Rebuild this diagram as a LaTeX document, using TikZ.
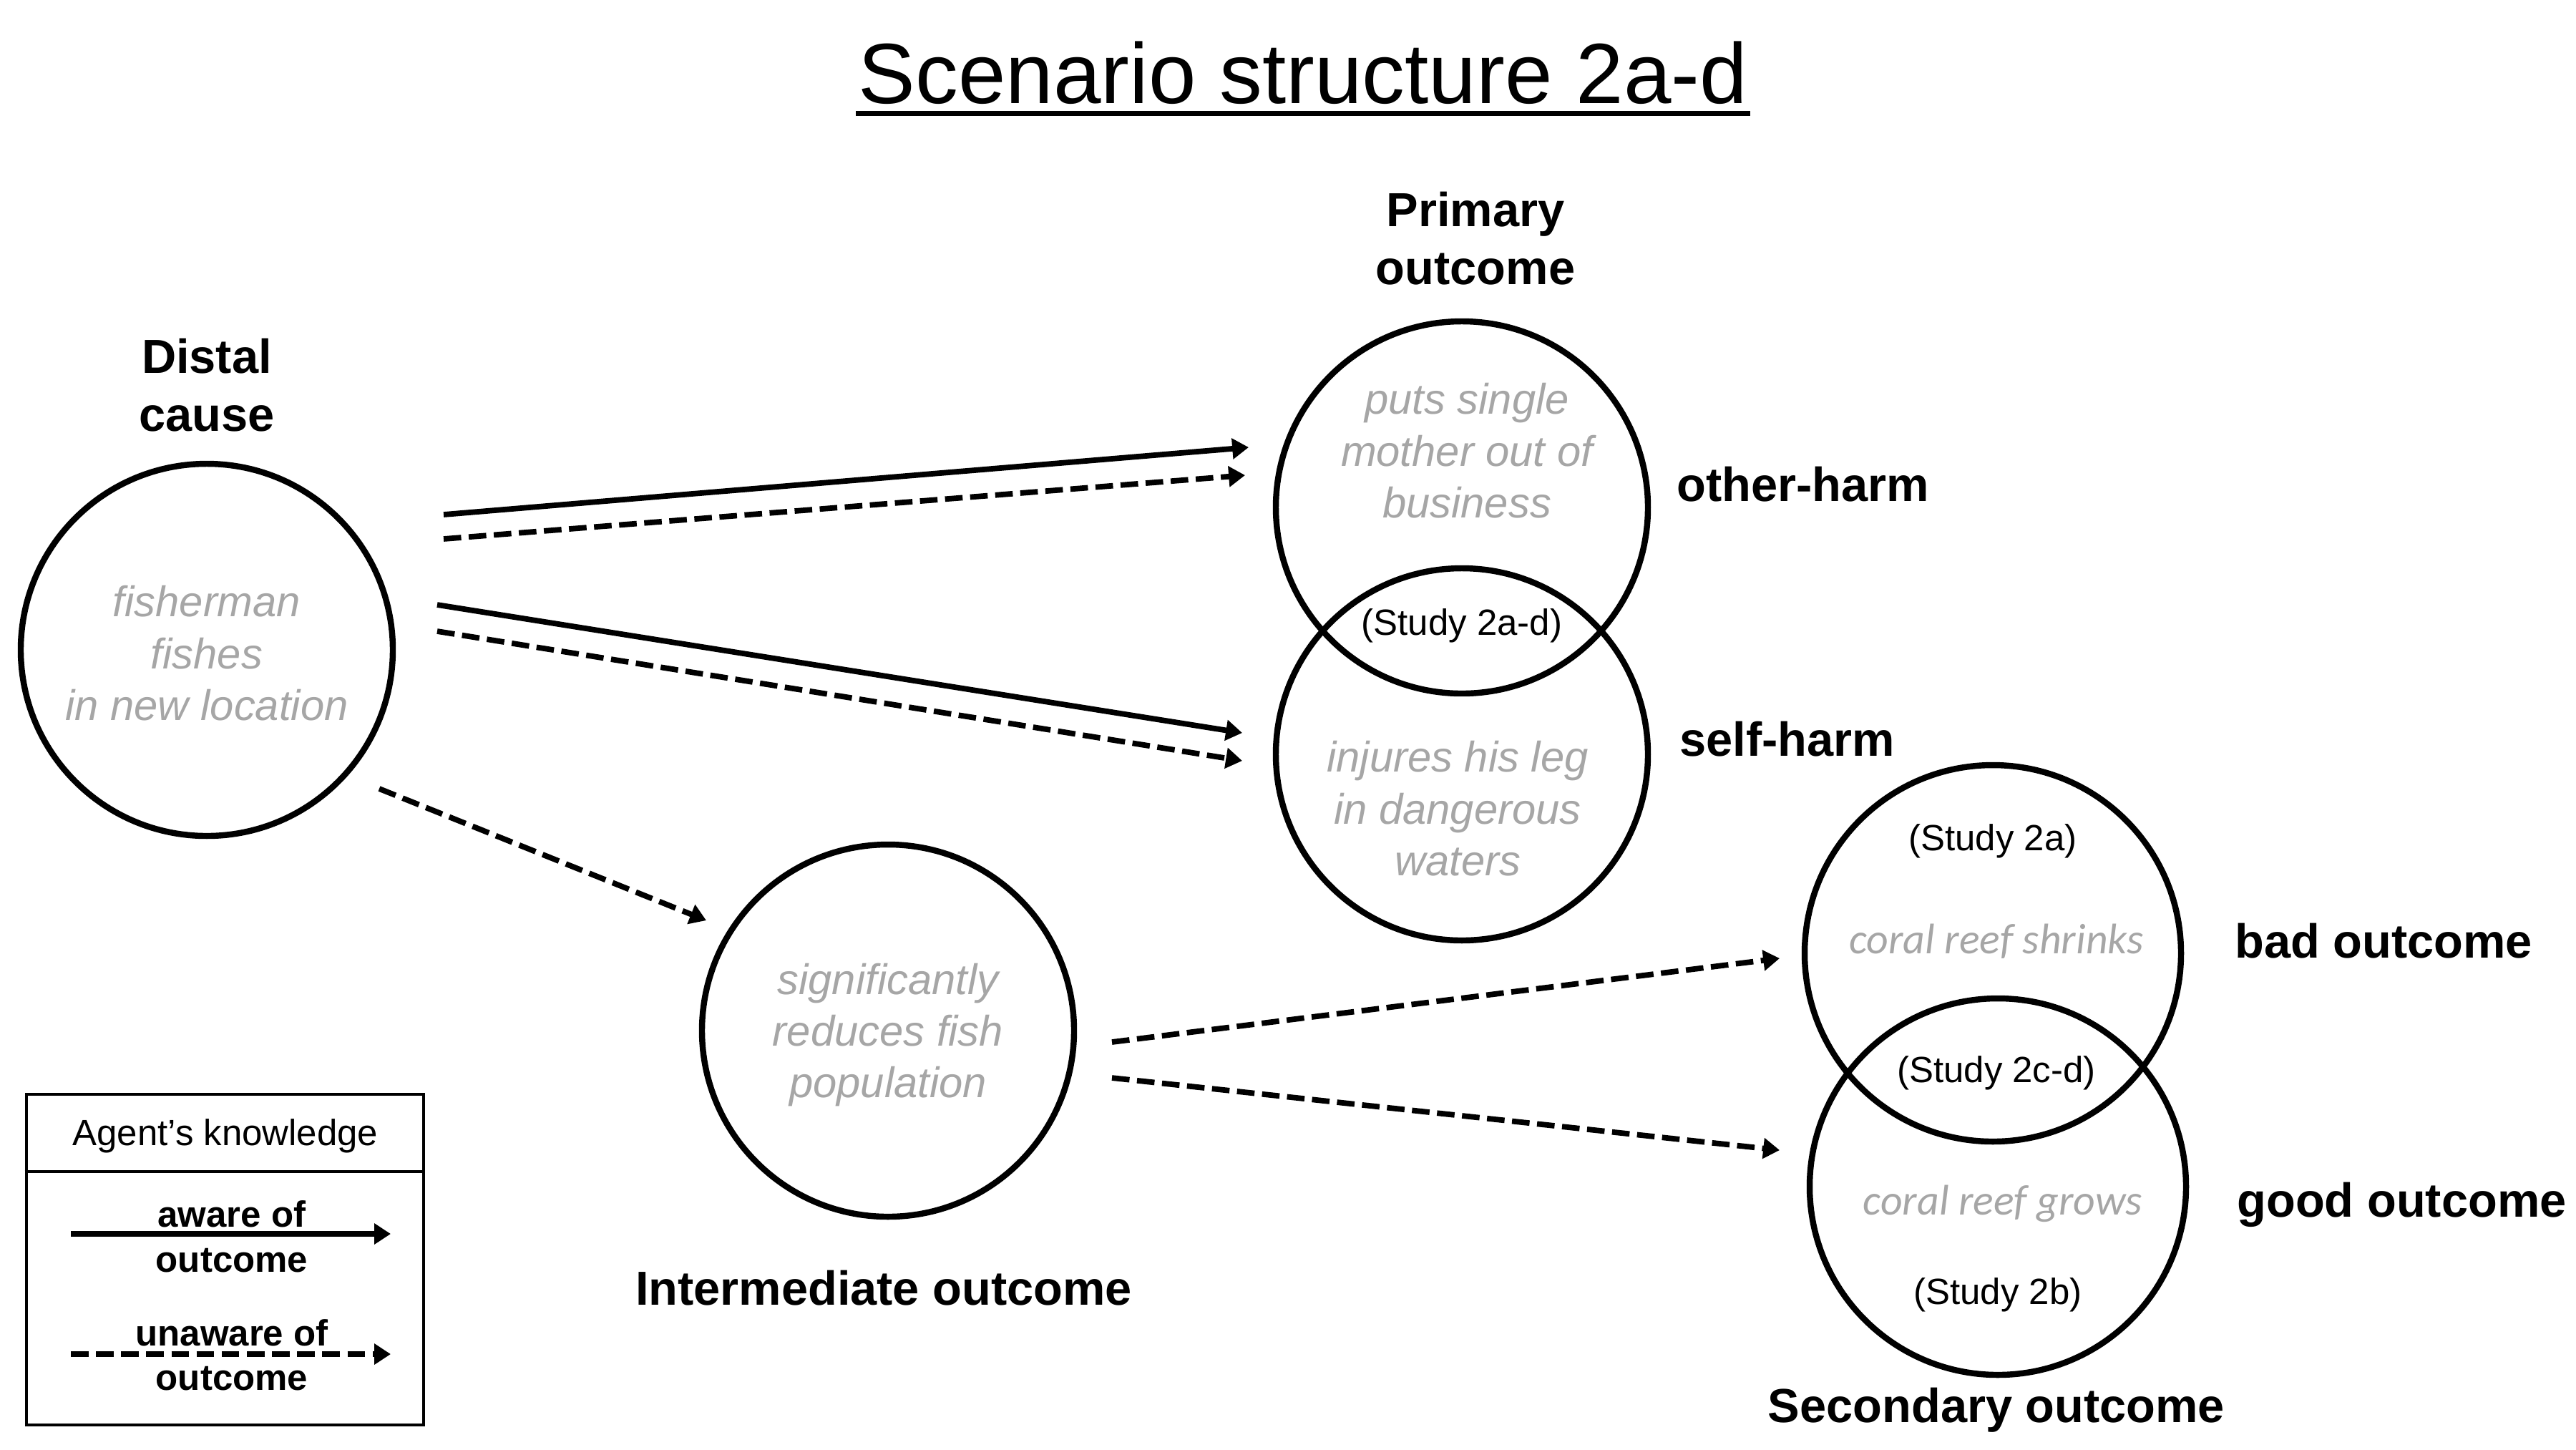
\documentclass[tikz,border=0pt]{standalone}
\usepackage{fontspec}
\setmainfont{Liberation Sans}
\newfontfamily\calfont{Carlito}
\usetikzlibrary{arrows.meta}
\definecolor{descgray}{RGB}{166,166,166}

\begin{document}
\begin{tikzpicture}[line width=2pt,
  outc/.style={draw,circle,line width=2.4pt,minimum size=5.2cm,inner sep=0pt},
  head/.style={inner sep=0pt,align=center,font=\fontsize{19}{23}\selectfont\bfseries},
  desc/.style={inner sep=0pt,align=center,text=descgray,font=\fontsize{17}{20.6}\selectfont\itshape},
  reef/.style={inner sep=0pt,text=descgray,font=\fontsize{17}{20}\selectfont\calfont\itshape},
  study/.style={inner sep=0pt,font=\fontsize{14.5}{17}\selectfont},
  legtxt/.style={inner sep=0pt,font=\fontsize{14.5}{17}\selectfont\bfseries},
  aware/.style={-{Triangle[length=6.5pt,width=8pt]},line width=2.2pt},
  unaware/.style={aware,dash pattern=on 7pt off 3pt}]
\useasboundingbox (0,0) rectangle (36,-20.25);
% ================= title =================
\node[inner sep=0pt,anchor=base,font=\fontsize{34}{40}\selectfont] (title) at (18.21,-1.44) {Scenario structure 2a-d};
\draw[line width=2pt] ([yshift=-4pt]title.base west) -- ([yshift=-4pt]title.base east);
% ================= distal cause =================
\node[head] (distlbl) at (2.89,-5.38) {Distal\\cause};
\node[outc] (dist) at (2.89,-9.08) {};
\node[desc] (disttxt) at (2.89,-9.13) {fisherman\\fishes\\in new location};
% ================= primary outcome =================
\node[head] (primlbl) at (20.62,-3.33) {Primary\\outcome};
\node[outc] (other) at (20.43,-7.09) {};
\node[outc] (self) at (20.43,-10.54) {};
\node[desc] (othertxt) at (20.50,-6.30) {puts single\\mother out of\\business};
\node[desc] (selftxt) at (20.37,-11.30) {injures his leg\\in dangerous\\waters};
\node[study] (st2ad) at (20.43,-8.74) {(Study 2a-d)};
\node[head,anchor=west] (otherlbl) at (23.40,-6.77) {other-harm};
\node[head,anchor=west] (selflbl) at (23.44,-10.33) {self-harm};
% ================= intermediate outcome =================
\node[outc] (inter) at (12.41,-14.40) {};
\node[desc] (intertxt) at (12.41,-14.46) {significantly\\reduces fish\\population};
\node[head] (interlbl) at (12.35,-18.00) {Intermediate outcome};
% ================= secondary outcome =================
\node[outc,minimum size=5.26cm] (bad) at (27.85,-13.32) {};
\node[outc,minimum size=5.26cm] (good) at (27.92,-16.58) {};
\node[study] (st2a) at (27.85,-11.75) {(Study 2a)};
\node[reef] (badtxt) at (27.90,-13.15) {coral reef shrinks};
\node[study] (st2cd) at (27.90,-14.99) {(Study 2c-d)};
\node[reef] (goodtxt) at (27.99,-16.82) {coral reef grows};
\node[study] (st2b) at (27.92,-18.09) {(Study 2b)};
\node[head] (seclbl) at (27.90,-19.70) {Secondary outcome};
\node[head,anchor=west] (badlbl) at (31.20,-13.15) {bad outcome};
\node[head,anchor=west] (goodlbl) at (31.23,-16.83) {good outcome};
% arrow end points
\coordinate (oh-aw-s) at (6.20,-7.19);  \coordinate (oh-aw-e) at (17.45,-6.25);
\coordinate (oh-un-s) at (6.20,-7.53);  \coordinate (oh-un-e) at (17.40,-6.64);
\coordinate (sh-aw-s) at (6.11,-8.45);  \coordinate (sh-aw-e) at (17.36,-10.24);
\coordinate (sh-un-s) at (6.11,-8.82);  \coordinate (sh-un-e) at (17.36,-10.63);
\coordinate (in-un-s) at (5.30,-11.02); \coordinate (in-un-e) at (9.87,-12.86);
\coordinate (bd-un-s) at (15.54,-14.56); \coordinate (bd-un-e) at (24.87,-13.39);
\coordinate (gd-un-s) at (15.54,-15.06); \coordinate (gd-un-e) at (24.87,-16.07);
\draw[aware] (oh-aw-s) -- (oh-aw-e);
\draw[unaware] (oh-un-s) -- (oh-un-e);
\draw[aware] (sh-aw-s) -- (sh-aw-e);
\draw[unaware] (sh-un-s) -- (sh-un-e);
\draw[unaware] (in-un-s) -- (in-un-e);
\draw[unaware] (bd-un-s) -- (bd-un-e);
\draw[unaware] (gd-un-s) -- (gd-un-e);
% ================= legend =================
\node[draw,line width=1.3pt,minimum width=5.55cm,minimum height=4.62cm,inner sep=0pt] (legend) at (3.145,-17.60) {};
\draw[line width=1.3pt] (legend.west |- 0,-16.37) -- (legend.east |- 0,-16.37);
\node[study] (legtitle) at (3.15,-15.87) {Agent’s knowledge};
\node[legtxt] (awtop) at (3.24,-16.96) {aware of};
\node[legtxt] (awbot) at (3.24,-17.61) {outcome};
\node[legtxt] (unawtop) at (3.24,-18.62) {unaware of};
\node[legtxt] (unawbot) at (3.24,-19.26) {outcome};
\coordinate (aw0) at (0.99,-17.24); \coordinate (aw1) at (5.46,-17.24);
\coordinate (un0) at (0.99,-18.92); \coordinate (un1) at (5.46,-18.92);
\draw[aware] (aw0) -- (aw1);
\draw[unaware] (un0) -- (un1);
\end{tikzpicture}
\end{document}
